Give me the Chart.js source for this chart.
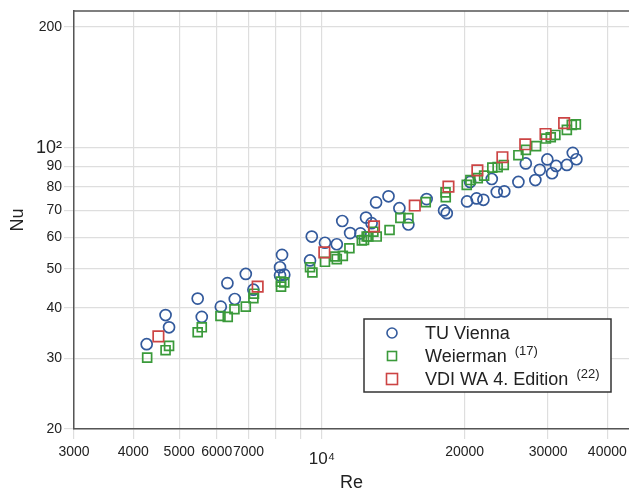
<!DOCTYPE html>
<html><head><meta charset="utf-8">
<script src="https://cdn.jsdelivr.net/npm/chart.js@4/dist/chart.umd.min.js"></script>
<style>html,body{margin:0;padding:0;background:#fff;overflow:hidden;}#wrap{position:relative;width:629px;height:490px;}</style>
</head><body><div id="wrap"><canvas id="c" width="629" height="490"></canvas></div>
<script>
// ---- data ----
const tuViennaRe = [4270,4680,4760,5470,5580,6120,6320,6550,6910,7170,8240,8160,8160,8330,9440,9520,10150,10750,11040,11470,12060,12390,12730,13010,13820,14570,15220,16630,18100,18340,20240,21200,21910,20540,22820,23380,24250,25970,26920,28200,28810,29890,30580,31190,32860,33820,34420];
const tuViennaNu = [32.5,38.4,35.8,42.2,38.0,40.3,46.1,42.1,48.6,44.4,54.2,50.5,48.2,48.4,52.5,60.2,58.1,57.6,65.8,61.4,61.3,67.1,65.0,73.2,75.8,70.8,64.5,74.6,69.9,68.8,73.6,74.9,74.3,82.3,83.7,77.7,78.0,82.3,91.5,83.2,88.2,93.6,86.5,90.2,90.7,97.2,93.7];
const weiermanRe = [4280,4680,4760,5470,5580,6110,6330,6540,6910,7170,7190,8200,8330,8200,9440,9550,10150,10660,10750,11070,11430,12140,12270,12430,12530,12840,13050,13890,14640,15220,16560,18230,18250,20210,20570,21320,21990,22880,23480,24190,25970,26930,28300,29680,30390,31080,32860,33660,34330];
const weiermanNu = [30.1,31.4,32.2,34.8,35.8,38.2,38.0,39.7,40.3,42.3,43.4,46.5,46.3,45.2,50.5,49.0,52.1,53.7,52.9,53.9,56.3,58.9,59.0,60.2,60.2,61.9,60.2,62.5,67.0,66.9,73.3,77.5,75.4,80.9,83.2,84.1,85.3,89.3,89.6,90.7,95.9,98.9,101.0,105.5,106.3,107.7,110.9,114.1,114.4];
const vdiRe = [4520,7320,10120,12880,15700,18490,21280,24030,26850,29630,32430];
const vdiNu = [34.0,45.2,55.0,63.8,71.9,80.1,87.9,94.8,102.1,108.3,115.2];

const seriesNames = ['TU Vienna','Weierman','VDI WA 4. Edition'];
const seriesRefs = ['', '(17)', '(22)'];

const xTicks = [3000,4000,5000,6000,7000,8000,9000,10000,20000,30000,40000];
const xTickLabels = ['3000','4000','5000','6000','7000','','','10\u2074','20000','30000','40000'];
const yTicks = [20,30,40,50,60,70,80,90,100,200];
const yTickLabels = ['20','30','40','50','60','70','80','90','10\u00B2','200'];

const BLUE = '#335a9c', GREEN = '#3a9a3a', RED = '#cc4444';
const FONT = 'Liberation Sans, Arial, Helvetica, sans-serif';
const GRID = '#dedede';

function pts(xs, ys){ return xs.map((x,i)=>({x:x, y:ys[i]})); }

const legendPlugin = {
  id: 'boxLegend',
  afterDraw(chart){
    const ctx = chart.ctx;
    const ca = chart.chartArea;
    ctx.save();
    ctx.strokeStyle = '#555'; ctx.lineWidth = 1.5;
    ctx.beginPath(); ctx.moveTo(ca.left, ca.top); ctx.lineTo(ca.right, ca.top); ctx.stroke();
    const bx = 364, by = 319, bw = 247, bh = 73;
    ctx.fillStyle = '#fff'; ctx.fillRect(bx, by, bw, bh);
    ctx.strokeStyle = '#333'; ctx.lineWidth = 1.5; ctx.strokeRect(bx, by, bw, bh);
    const rows = [333, 356, 379];
    const cols = [BLUE, GREEN, RED];
    const mx = 392;
    ctx.lineWidth = 1.6;
    ctx.strokeStyle = cols[0]; ctx.beginPath(); ctx.arc(mx, rows[0], 5, 0, Math.PI*2); ctx.stroke();
    ctx.strokeStyle = cols[1]; ctx.strokeRect(mx-4.5, rows[1]-4.5, 9, 9);
    ctx.strokeStyle = cols[2]; ctx.strokeRect(mx-5.5, rows[2]-5.5, 11, 11);
    ctx.fillStyle = '#222'; ctx.textBaseline = 'middle'; ctx.textAlign = 'left';
    for (let i=0;i<3;i++){
      ctx.font = '18px ' + FONT;
      ctx.fillText(seriesNames[i], 425, rows[i]+1);
      if (seriesRefs[i]){
        const w = ctx.measureText(seriesNames[i] + ' ').width;
        ctx.font = '13px ' + FONT;
        ctx.fillText(seriesRefs[i], 425 + w + 3, rows[i]-5);
      }
    }
    ctx.restore();
  }
};

new Chart(document.getElementById('c'), {
  type: 'scatter',
  data: {
    datasets: [
      { label: seriesNames[2], data: pts(vdiRe, vdiNu), pointStyle: 'rect', pointRadius: 7.4, pointHoverRadius: 7.4,
        borderColor: RED, backgroundColor: 'rgba(0,0,0,0)', pointBorderWidth: 1.7, order: 0 },
      { label: seriesNames[1], data: pts(weiermanRe, weiermanNu), pointStyle: 'rect', pointRadius: 6.3, pointHoverRadius: 6.3,
        borderColor: GREEN, backgroundColor: 'rgba(0,0,0,0)', pointBorderWidth: 1.7, order: 1 },
      { label: seriesNames[0], data: pts(tuViennaRe, tuViennaNu), pointStyle: 'circle', pointRadius: 5.5, pointHoverRadius: 5.5,
        borderColor: BLUE, backgroundColor: 'rgba(0,0,0,0)', pointBorderWidth: 1.7, order: 2 }
    ]
  },
  options: {
    responsive: false, animation: false, devicePixelRatio: 1,
    layout: { autoPadding: false, padding: { top: 11, left: 0, right: 0, bottom: 0 } },
    plugins: { legend: { display: false }, tooltip: { enabled: false } },
    scales: {
      x: {
        type: 'logarithmic', min: 3000, max: 44440,
        afterBuildTicks: s => { s.ticks = xTicks.map(v => ({ value: v })); },
        afterFit: s => { s.height = 61; s.paddingRight = 0; s.paddingLeft = 0; },
        ticks: {
          autoSkip: false, maxRotation: 0, minRotation: 0, padding: 5, color: '#222',
          callback: (v, i) => xTickLabels[i],
          font: c => c.index === 7 ? { size: 17, family: FONT, lineHeight: 1.75 } : { size: 14, family: FONT, lineHeight: 1.2 }
        },
        grid: { color: GRID, tickColor: GRID, tickLength: 10, lineWidth: 1.2 },
        border: { color: '#555', width: 1.5 },
        title: { display: true, text: 'Re', color: '#222', font: { size: 18, family: FONT, lineHeight: 0.8 }, padding: { top: 0, bottom: 0 } }
      },
      y: {
        type: 'logarithmic', min: 20, max: 219,
        afterBuildTicks: s => { s.ticks = yTicks.map(v => ({ value: v })); },
        afterFit: s => { s.width = 74; s.paddingTop = 0; s.paddingBottom = 0; },
        ticks: {
          autoSkip: false, padding: 2, color: '#222',
          callback: (v, i) => yTickLabels[i],
          font: c => c.index === 8 ? { size: 18, family: FONT } : { size: 14, family: FONT }
        },
        grid: { color: GRID, tickColor: GRID, tickLength: 10, lineWidth: 1.2 },
        border: { color: '#555', width: 1.5 },
        title: { display: true, text: 'Nu', color: '#222', font: { size: 18, family: FONT, lineHeight: 1 }, padding: { top: 9, bottom: 0 } }
      }
    }
  },
  plugins: [legendPlugin]
});
</script>
</body></html>
